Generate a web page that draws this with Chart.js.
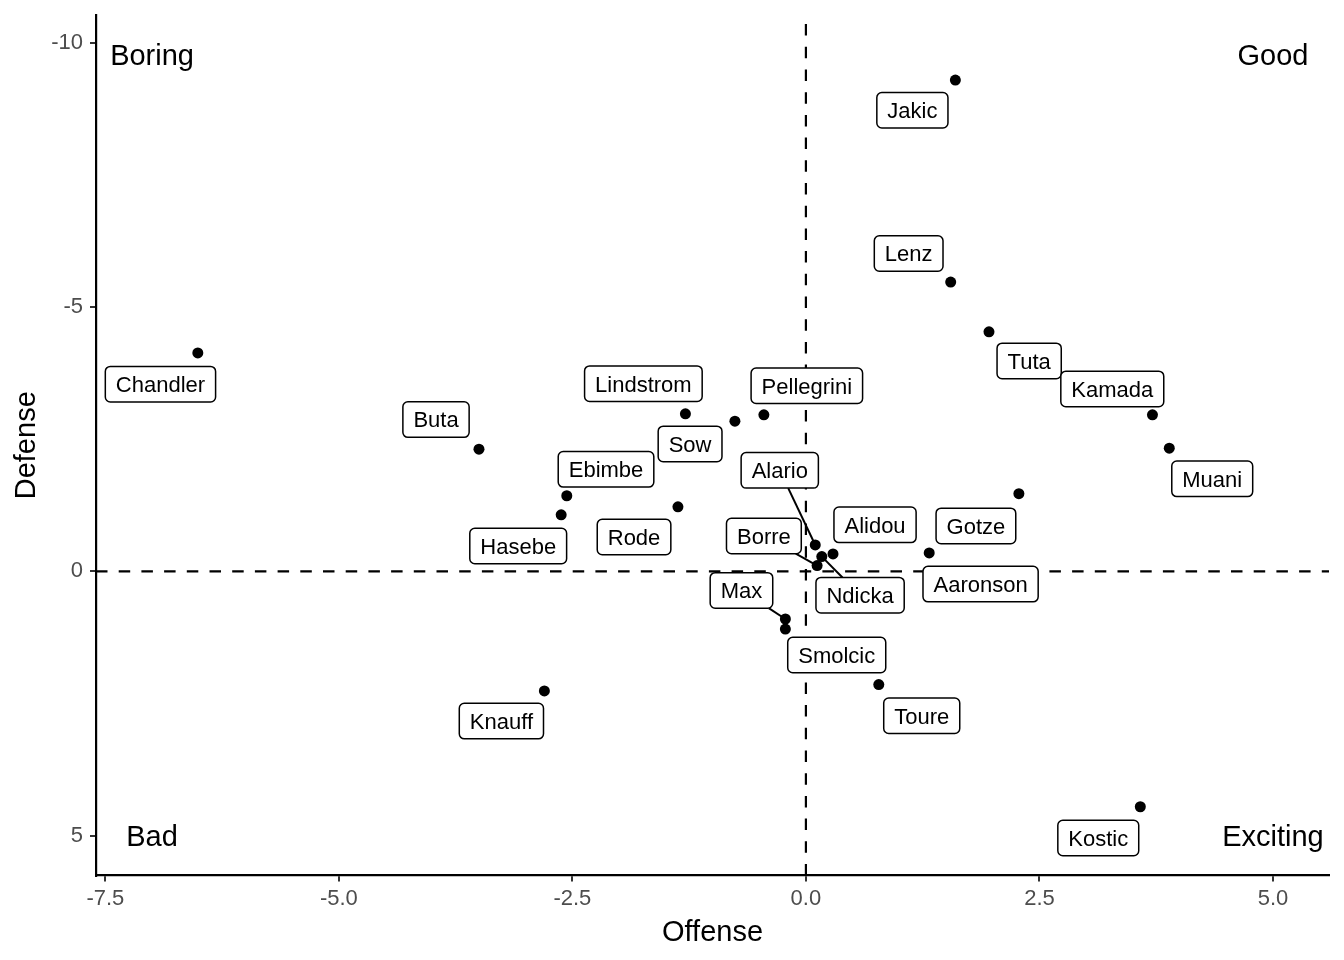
<!DOCTYPE html>
<html>
<head>
<meta charset="utf-8">
<title>Offense vs Defense</title>
<script src="https://cdn.jsdelivr.net/npm/chart.js@4.4.1/dist/chart.umd.min.js"></script>
<style>
  html, body { margin: 0; padding: 0; background: #fff; }
  #wrap { width: 1344px; height: 960px; }
</style>
</head>
<body>
<div id="wrap"><canvas id="quadrantChart" width="1344" height="960"></canvas></div>
<script>
// player values (offense = x, defense = y, y axis reversed)
const players = ["Jakic", "Lenz", "Tuta", "Kamada", "Muani", "Gotze", "Aaronson", "Chandler",
  "Buta", "Lindstrom", "Sow", "Pellegrini", "Ebimbe", "Hasebe", "Rode", "Alario", "Borre",
  "Alidou", "Ndicka", "Max", "Smolcic", "Knauff", "Toure", "Kostic"];
const offense = [1.60, 1.55, 1.96, 3.71, 3.89, 2.28, 1.32, -6.51,
  -3.50, -1.29, -0.76, -0.45, -2.56, -2.62, -1.37, 0.10, 0.12,
  0.29, 0.17, -0.22, -0.22, -2.80, 0.78, 3.58];
const defense = [-9.29, -5.47, -4.53, -2.96, -2.33, -1.47, -0.35, -4.13,
  -2.31, -2.98, -2.84, -2.96, -1.43, -1.07, -1.22, -0.50, -0.11,
  -0.33, -0.28, 0.90, 1.09, 2.26, 2.14, 4.45];

// where the repelled name labels sit (data units)
const labelOffense = [1.14, 1.10, 2.39, 3.28, 4.35, 1.82, 1.87, -6.91,
  -3.96, -1.74, -1.24, 0.01, -2.14, -3.08, -1.84, -0.28, -0.45,
  0.74, 0.58, -0.69, 0.33, -3.26, 1.24, 3.13];
const labelDefense = [-8.72, -6.01, -3.98, -3.45, -1.75, -0.86, 0.24, -3.54,
  -2.87, -3.55, -2.41, -3.51, -1.93, -0.48, -0.65, -1.91, -0.67,
  -0.88, 0.45, 0.36, 1.58, 2.83, 2.73, 5.04];

const quadrantNames = ["Boring", "Good", "Bad", "Exciting"];
const quadrantX = [-7, 5, -7, 5];
const quadrantY = [-9.77, -9.77, 5, 5];

const xTicks = [-7.5, -5, -2.5, 0, 2.5, 5];
const yTicks = [-10, -5, 0, 5];

const FONT = '"Liberation Sans", Arial, Helvetica, sans-serif';

function roundedBox(ctx, l, t, w, h, r) {
  ctx.beginPath();
  ctx.moveTo(l + r, t);
  ctx.lineTo(l + w - r, t);
  ctx.arcTo(l + w, t, l + w, t + r, r);
  ctx.lineTo(l + w, t + h - r);
  ctx.arcTo(l + w, t + h, l + w - r, t + h, r);
  ctx.lineTo(l + r, t + h);
  ctx.arcTo(l, t + h, l, t + h - r, r);
  ctx.lineTo(l, t + r);
  ctx.arcTo(l, t, l + r, t, r);
  ctx.closePath();
}

const quadrantPlugin = {
  id: "quadrants",
  beforeDatasetsDraw(chart) {
    const { ctx, chartArea: a, scales: { x, y } } = chart;
    const x0 = x.getPixelForValue(0);
    const y0 = y.getPixelForValue(0);
    ctx.save();
    ctx.strokeStyle = "#000";
    ctx.lineWidth = 2.2;
    ctx.setLineDash([11.5, 11.2]);
    ctx.beginPath();
    ctx.moveTo(a.left, y0);
    ctx.lineTo(a.right, y0);
    ctx.stroke();
    ctx.beginPath();
    ctx.moveTo(x0, a.bottom);
    ctx.lineTo(x0, a.top);
    ctx.stroke();
    ctx.restore();
  },
  afterDatasetsDraw(chart) {
    const { ctx, chartArea: a, scales: { x, y } } = chart;
    ctx.save();

    // name labels: segments first, boxes on top
    ctx.font = `22px ${FONT}`;
    const boxes = players.map((name, i) => {
      const w = ctx.measureText(name).width + 21;
      const h = 35.5;
      const cx = x.getPixelForValue(labelOffense[i]);
      const cy = y.getPixelForValue(labelDefense[i]);
      return { name, w, h, cx, cy, l: cx - w / 2, t: cy - h / 2,
        px: x.getPixelForValue(offense[i]), py: y.getPixelForValue(defense[i]) };
    });

    ctx.strokeStyle = "#000";
    ctx.lineWidth = 2;
    boxes.forEach(b => {
      const dx = Math.max(b.l - b.px, 0, b.px - (b.l + b.w));
      const dy = Math.max(b.t - b.py, 0, b.py - (b.t + b.h));
      if (Math.hypot(dx, dy) < 15.6) return;
      const vx = b.px - b.cx, vy = b.py - b.cy;
      const s = Math.min(vx ? Math.abs(b.w / 2 / vx) : Infinity,
                         vy ? Math.abs(b.h / 2 / vy) : Infinity);
      ctx.beginPath();
      ctx.moveTo(b.cx + vx * s, b.cy + vy * s);
      ctx.lineTo(b.px, b.py);
      ctx.stroke();
    });

    ctx.lineWidth = 1.5;
    ctx.textAlign = "center";
    ctx.textBaseline = "alphabetic";
    boxes.forEach(b => {
      roundedBox(ctx, b.l, b.t, b.w, b.h, 5);
      ctx.fillStyle = "#fff";
      ctx.fill();
      ctx.stroke();
      ctx.fillStyle = "#000";
      ctx.fillText(b.name, b.cx, b.cy + 7.9);
    });

    // quadrant captions
    ctx.font = `29px ${FONT}`;
    quadrantNames.forEach((q, i) => {
      ctx.fillText(q, x.getPixelForValue(quadrantX[i]), y.getPixelForValue(quadrantY[i]) + 10.4);
    });

    // axis titles
    ctx.fillText("Offense", (a.left + a.right) / 2, 940.5);
    ctx.translate(35, (a.top + a.bottom) / 2);
    ctx.rotate(-Math.PI / 2);
    ctx.fillText("Defense", 0, 0);
    ctx.restore();
  }
};

const tickFont = { family: FONT, size: 22 };

new Chart(document.getElementById("quadrantChart"), {
  type: "scatter",
  data: {
    datasets: [{
      data: players.map((p, i) => ({ x: offense[i], y: defense[i] })),
      backgroundColor: "#000",
      borderWidth: 0,
      pointRadius: 5.5,
      pointHoverRadius: 5.5
    }]
  },
  options: {
    responsive: false,
    animation: false,
    devicePixelRatio: 1,
    events: [],
    layout: { padding: { top: 15, right: 15, left: 0, bottom: 0 } },
    plugins: { legend: { display: false }, tooltip: { enabled: false } },
    scales: {
      x: {
        type: "linear",
        min: -7.6,
        max: 5.6,
        afterBuildTicks: s => { s.ticks = xTicks.map(v => ({ value: v })); },
        afterFit: s => { s.height = 84.5; s.paddingLeft = 0; s.paddingRight = 0; },
        ticks: { callback: v => v.toFixed(1), font: tickFont, color: "#4d4d4d", padding: 4, maxRotation: 0 },
        grid: { drawOnChartArea: false, drawTicks: true, tickLength: 6, color: "#333", lineWidth: 2 },
        border: { display: true, color: "#000", width: 2.2 }
      },
      y: {
        type: "linear",
        reverse: true,
        min: -10.52,
        max: 5.75,
        afterBuildTicks: s => { s.ticks = yTicks.map(v => ({ value: v })); },
        afterFit: s => { s.width = 96; s.paddingTop = 0; s.paddingBottom = 0; },
        ticks: { callback: v => String(v), font: tickFont, color: "#4d4d4d", padding: 7 },
        grid: { drawOnChartArea: false, drawTicks: true, tickLength: 6, color: "#333", lineWidth: 2 },
        border: { display: true, color: "#000", width: 2.2 }
      }
    }
  },
  plugins: [quadrantPlugin]
});
</script>
</body>
</html>
